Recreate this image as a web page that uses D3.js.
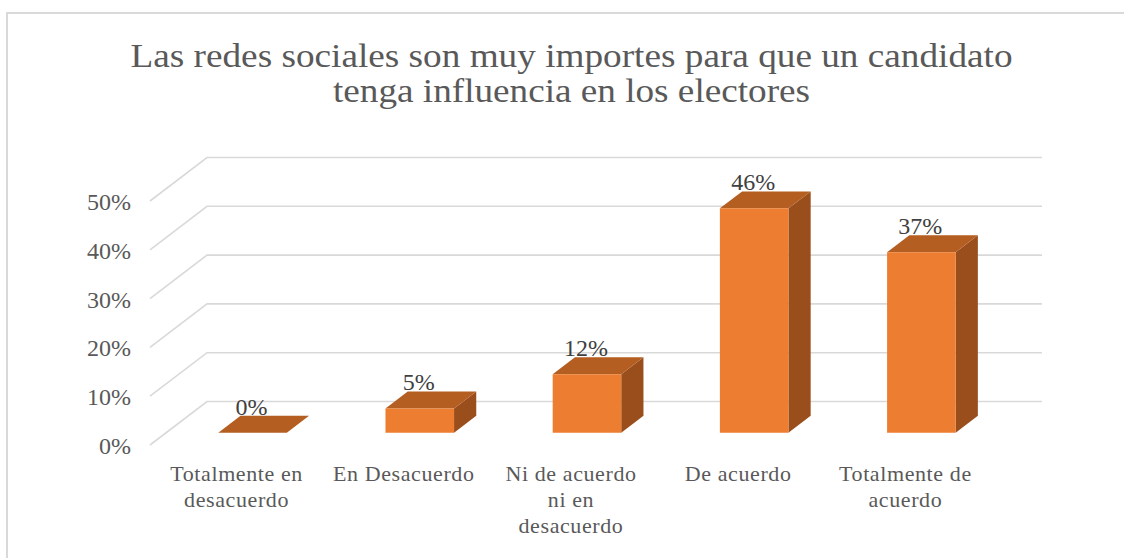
<!DOCTYPE html>
<html>
<head>
<meta charset="utf-8">
<script src="https://cdn.jsdelivr.net/npm/d3@7"></script>
<style>
  html body svg text, html body svg tspan { font-family: "Liberation Serif", "Times New Roman", serif !important; }
</style>
</head>
<body style="margin:0">
<svg id="fig" width="1124" height="558" style="display:block"></svg>
<script>
// ---- data ----
const titleLines = ["Las redes sociales son muy importes para que un candidato", "tenga influencia en los electores"];
const categories = ["Totalmente en desacuerdo", "En Desacuerdo", "Ni de acuerdo ni en desacuerdo", "De acuerdo", "Totalmente de acuerdo"];
const categoryLines = [["Totalmente en", "desacuerdo"], ["En Desacuerdo"], ["Ni de acuerdo", "ni en", "desacuerdo"], ["De acuerdo"], ["Totalmente de", "acuerdo"]];
const values = [0.00, 0.05, 0.12, 0.46, 0.37];
const valueLabels = ["0%", "5%", "12%", "46%", "37%"];
const yTicks = [0, 0.1, 0.2, 0.3, 0.4, 0.5];
const yTickLabels = ["0%", "10%", "20%", "30%", "40%", "50%"];

// ---- layout ----
const FONT = "'Liberation Serif', serif";
const svg = d3.select("#fig");
const W = 1124, H = 558;
const depthX = 57, depthY = -43.5;      // front-to-back offset of the plot box
const wallLeft = 150, wallRight = 985;  // front floor plane x extent
const t0 = 0.28, t1 = 0.67;             // bar depth (fraction of box depth)

const x = d3.scaleBand().domain(categories).range([153, 989]).paddingInner(0.59).paddingOuter(0.295);
const y = d3.scaleLinear().domain([0, 0.5]).range([445, 201]);

const proj = (px, v, t) => [px + t * depthX, y(v) + t * depthY];

// chart border
svg.append("rect").attr("x", 7).attr("y", 13).attr("width", W + 20).attr("height", H + 20)
  .attr("fill", "#ffffff").attr("stroke", "#D9D9D9").attr("stroke-width", 2);

// title
svg.selectAll("text.ttl").data(titleLines).join("text")
  .attr("class", "ttl")
  .style("font-family", FONT, "important")
  .attr("x", 571.5).attr("y", (d, i) => 67 + i * 35)
  .attr("text-anchor", "middle")
  .attr("font-size", 33).attr("fill", "#595959")
  .attr("textLength", (d, i) => i === 0 ? 882 : 477)
  .attr("lengthAdjust", "spacingAndGlyphs")
  .text(d => d);

// gridlines: side wall diagonals + back wall horizontals
const grid = svg.append("g").attr("stroke", "#D9D9D9").attr("stroke-width", 1.6).attr("fill", "none");
grid.selectAll("path").data(yTicks).join("path")
  .attr("d", v => {
    const a = proj(wallLeft, v, 0), b = proj(wallLeft, v, 1), c = proj(wallRight, v, 1);
    return `M${a[0]},${a[1]}L${b[0]},${b[1]}L${c[0]},${c[1]}`;
  });

// y tick labels
svg.selectAll("text.ylab").data(yTicks).join("text")
  .attr("class", "ylab")
  .style("font-family", FONT, "important")
  .attr("x", 131).attr("y", v => y(v) + 9)
  .attr("text-anchor", "end")
  .attr("font-size", 24).attr("fill", "#595959")
  .text((v, i) => yTickLabels[i]);

// bars
const poly = pts => "M" + pts.map(p => p.join(",")).join("L") + "Z";
const bars = svg.append("g").selectAll("g").data(values).join("g");
bars.append("path") // side face
  .attr("fill", "#9A4E1C")
  .attr("d", (v, i) => {
    const x1 = x(categories[i]) + x.bandwidth();
    return poly([proj(x1, 0, t0), proj(x1, v, t0), proj(x1, v, t1), proj(x1, 0, t1)]);
  });
bars.append("path") // top face
  .attr("fill", "#B45E22")
  .attr("d", (v, i) => {
    const x0 = x(categories[i]), x1 = x0 + x.bandwidth();
    return poly([proj(x0, v, t0), proj(x1, v, t0), proj(x1, v, t1), proj(x0, v, t1)]);
  });
bars.append("path") // front face
  .attr("fill", "#ED7D31")
  .attr("d", (v, i) => {
    const x0 = x(categories[i]), x1 = x0 + x.bandwidth();
    return poly([proj(x0, 0, t0), proj(x1, 0, t0), proj(x1, v, t0), proj(x0, v, t0)]);
  });

// data labels
svg.selectAll("text.vlab").data(values).join("text")
  .attr("class", "vlab")
  .style("font-family", FONT, "important")
  .attr("x", (v, i) => proj(x(categories[i]) + x.bandwidth() / 2, v, t0)[0] - 1)
  .attr("y", (v, i) => proj(0, v, t1)[1] - 1)
  .attr("text-anchor", "middle")
  .attr("font-size", 24).attr("fill", "#404040")
  .text((v, i) => valueLabels[i]);

// category labels
const cat = svg.selectAll("text.clab").data(categories).join("text")
  .attr("class", "clab")
  .style("font-family", FONT, "important")
  .attr("text-anchor", "middle")
  .attr("font-size", 22).attr("fill", "#595959")
  .attr("letter-spacing", 0.6);
cat.selectAll("tspan").data((d, i) => categoryLines[i].map(l => ({ l, c: d })))
  .join("tspan")
  .attr("x", d => x(d.c) + x.bandwidth() / 2)
  .attr("y", (d, j) => 481 + j * 26)
  .text(d => d.l);
</script>
</body>
</html>
